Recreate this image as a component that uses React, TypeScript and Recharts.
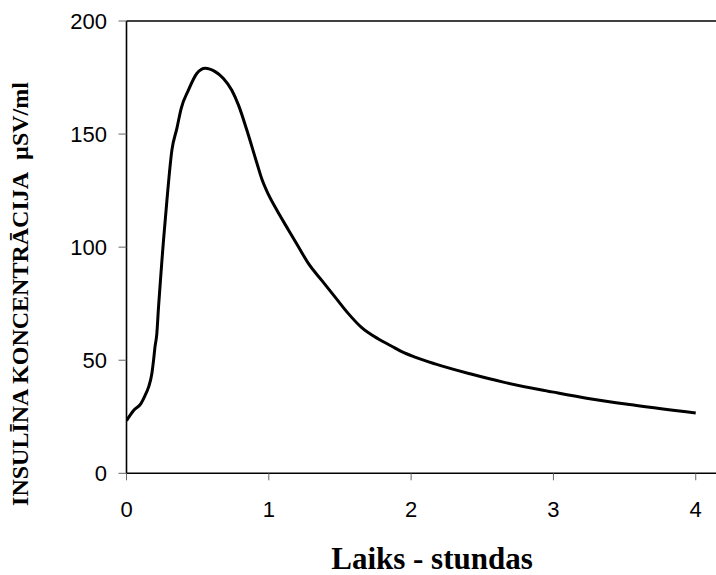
import React from 'react';
import { LineChart, Line, XAxis, YAxis, ReferenceLine } from 'recharts';

const timeHours = [0, 0.05, 0.1, 0.13, 0.155, 0.178, 0.19, 0.2, 0.213, 0.225, 0.237, 0.249, 0.26, 0.284, 0.319, 0.354, 0.384, 0.435, 0.494, 0.553, 0.623, 0.681, 0.74, 0.787, 0.846, 0.916, 0.951, 0.997, 1.056, 1.138, 1.208, 1.278, 1.372, 1.466, 1.559, 1.653, 1.77, 1.864, 1.934, 2.027, 2.168, 2.414, 2.648, 3.0, 3.233, 3.584, 4.0];
const insulin = [23.3, 27.8, 30.7, 34.4, 38.1, 44, 49.9, 55.8, 61.7, 73.5, 83.9, 94.2, 103, 120.7, 142.9, 152.5, 161.3, 169.4, 176.8, 179.1, 177.6, 174.6, 169.4, 162.8, 151.7, 137.2, 130.1, 123.3, 116.4, 107.6, 100.2, 92.8, 85.3, 77.9, 70.6, 64.4, 59.4, 56.2, 53.8, 51.4, 48.4, 44, 40.3, 35.9, 33.2, 30, 26.7];
const xTicks = [0, 1, 2, 3, 4];
const yTicks = [0, 50, 100, 150, 200];
const xTitle = 'Laiks - stundas';
const yTitle = 'INSULĪNA KONCENTRĀCIJA\u00A0\u00A0µSV/ml';

const data = timeHours.map((t, i) => ({ t, v: insulin[i] }));

const serif = "'Times New Roman', 'Liberation Serif', serif";
const sans = "Arial, 'Liberation Sans', sans-serif";

const XTitle = () => (
  <text x={432} y={569} textAnchor="middle" fontFamily={serif} fontWeight="bold" fontSize={31} fill="#000">
    {xTitle}
  </text>
);

const YTitle = () => (
  <text x={28} y={294} transform="rotate(-90, 28, 294)" textAnchor="middle" fontFamily={serif} fontWeight="bold" fontSize={24} fill="#000">
    {yTitle}
  </text>
);

export default function App() {
  return (
    <div style={{ position: 'absolute', left: 0, top: 0, width: 716, height: 575, overflow: 'hidden', background: '#fff' }}>
      <LineChart width={740} height={575} data={data} margin={{ top: 21, right: 15.8, bottom: 61.7, left: 0 }}>
        <XAxis
          dataKey="t"
          type="number"
          domain={[0, 4.2]}
          ticks={xTicks}
          allowDataOverflow
          height={40}
          axisLine={{ stroke: '#000', strokeWidth: 1.6 }}
          tickLine={{ stroke: '#666', strokeWidth: 1 }}
          tickSize={7}
          tickMargin={21}
          tick={{ fontSize: 22, fill: '#000', fontFamily: sans }}
          label={{ content: () => <XTitle /> }}
        />
        <YAxis
          type="number"
          domain={[0, 200]}
          ticks={yTicks}
          width={126.5}
          axisLine={{ stroke: '#000', strokeWidth: 1.6 }}
          tickLine={{ stroke: '#666', strokeWidth: 1 }}
          tickSize={8}
          tickMargin={11.6}
          tick={{ fontSize: 22, fill: '#000', fontFamily: sans }}
          label={{ content: () => <YTitle /> }}
        />
        <ReferenceLine y={200} stroke="#000" strokeWidth={1.6} />
        <Line
          type="monotone"
          dataKey="v"
          stroke="#000"
          strokeWidth={3}
          dot={false}
          activeDot={false}
          isAnimationActive={false}
        />
      </LineChart>
    </div>
  );
}
